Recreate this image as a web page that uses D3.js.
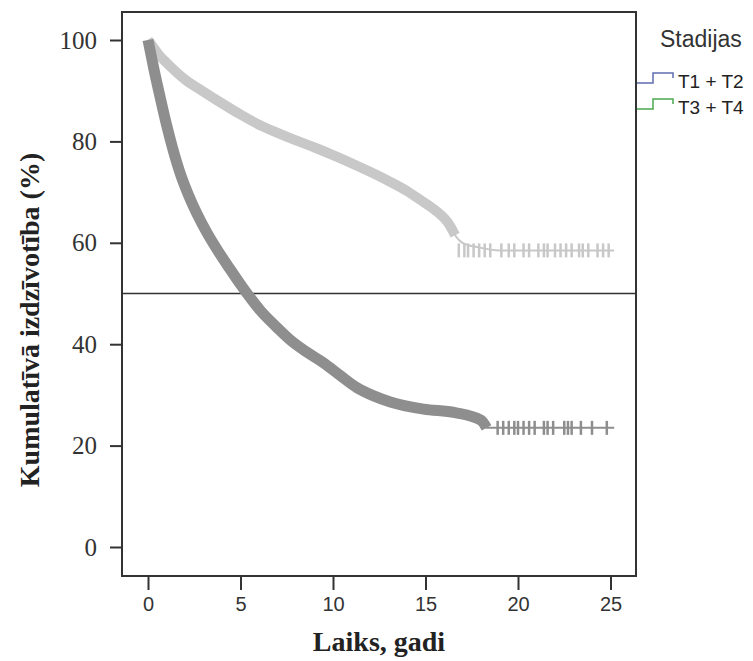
<!DOCTYPE html>
<html>
<head>
<meta charset="utf-8">
<script src="https://cdn.jsdelivr.net/npm/d3@7"></script>
<style>
  body { margin: 0; background: #fff; }
  .ylab text { font-family: "Liberation Serif", serif; font-size: 25px; fill: #333; }
  .xlab text { font-family: "Liberation Sans", Arial, sans-serif; font-size: 20px; fill: #333; }
  .tick line { stroke: #333; stroke-width: 2; }
</style>
</head>
<body>
<div id="chart"></div>
<script>
// survival data (time in years, survival in %)
var timeT12 = [0, 0.3, 0.6, 1, 2, 3, 4, 5, 6, 7, 8, 9, 10, 11, 12, 13, 14, 14.7, 15.5, 16.3, 16.6, 17, 18, 19, 25.2];
var survT12 = [100, 98.5, 97, 95.5, 92.2, 89.8, 87.5, 85.3, 83.3, 81.7, 80.2, 78.8, 77.3, 75.7, 74, 72.2, 70.2, 68.5, 66.5, 63.5, 61.5, 60, 59, 58.5, 58.5];
var censorT12 = [16.8, 17.1, 17.3, 17.6, 17.9, 18.2, 18.5, 19.1, 19.5, 19.8, 20.3, 20.6, 21.1, 21.4, 21.6, 22.0, 22.3, 22.6, 22.9, 23.3, 23.5, 23.8, 24.3, 24.6, 24.9];

var timeT34 = [0, 0.15, 0.3, 0.65, 1, 1.35, 1.73, 2.2, 2.65, 3.2, 3.73, 4.4, 5, 6.06, 7, 7.7, 8.6, 9.5, 10.4, 11.3, 12.2, 13.1, 14.9, 16.6, 18, 18.3, 25.2];
var survT34 = [100, 97.3, 94.6, 88.8, 83.3, 78.4, 73.8, 69.3, 65.7, 61.9, 58.7, 55, 51.8, 46.7, 43.2, 40.8, 38.4, 36.3, 33.8, 31.4, 29.8, 28.6, 27.2, 26.5, 25, 23.5, 23.5];
var censorT34 = [18.9, 19.2, 19.5, 19.8, 20.0, 20.3, 20.6, 20.9, 21.4, 21.6, 21.9, 22.5, 22.7, 22.9, 23.4, 24.0, 24.8];

// where the dense band of censor marks ends
var denseEndT12 = 16.6;
var denseEndT34 = 18.3;

var xTicks = [0, 5, 10, 15, 20, 25];
var yTicks = [0, 20, 40, 60, 80, 100];
var groups = ["T1 + T2", "T3 + T4"];
var legendColors = ["#5d6db3", "#4aa84f"];

var svgWidth = 753;
var svgHeight = 661;

// frame of the plot area
var frame = { left: 122, right: 636, top: 12, bottom: 576 };

var svg = d3.select("#chart")
    .append("svg")
    .attr("width", svgWidth)
    .attr("height", svgHeight);

var x = d3.scaleLinear().domain([0, 25]).range([148, 610.5]);
var y = d3.scaleLinear().domain([0, 100]).range([547, 40]);

// reference line at 50 %
svg.append("line")
    .attr("x1", frame.left).attr("x2", frame.right)
    .attr("y1", y(50)).attr("y2", y(50))
    .attr("stroke", "#333")
    .attr("stroke-width", 1.6);

var line = d3.line()
    .curve(d3.curveMonotoneX)
    .x(d => x(d[0]))
    .y(d => y(d[1]));

function drawCurve(times, surv, censor, denseEnd, color, band) {
    var pts = times.map((t, i) => [t, surv[i]]);
    // thin survival line
    svg.append("path")
        .attr("d", line(pts))
        .attr("fill", "none")
        .attr("stroke", color)
        .attr("stroke-width", 2);
    // dense band of censor marks
    svg.append("path")
        .attr("d", line(pts.filter(d => d[0] <= denseEnd)))
        .attr("fill", "none")
        .attr("stroke", color)
        .attr("stroke-width", band)
        .attr("stroke-linejoin", "round");
    // sparse censor ticks in the tail
    var last = surv[surv.length - 1];
    svg.selectAll(null)
        .data(censor)
        .enter()
        .append("line")
        .attr("x1", d => x(d)).attr("x2", d => x(d))
        .attr("y1", y(last) - 7).attr("y2", y(last) + 7)
        .attr("stroke", color)
        .attr("stroke-width", 2.5);
}

drawCurve(timeT12, survT12, censorT12, denseEndT12, "#c8c8c8", 10);
drawCurve(timeT34, survT34, censorT34, denseEndT34, "#8e8e8e", 11);

// plot frame
svg.append("rect")
    .attr("x", frame.left).attr("y", frame.top)
    .attr("width", frame.right - frame.left)
    .attr("height", frame.bottom - frame.top)
    .attr("fill", "none")
    .attr("stroke", "#333")
    .attr("stroke-width", 2);

// axes
var leftAxis = d3.axisLeft(y).tickValues(yTicks).tickSize(12).tickPadding(13);
var bottomAxis = d3.axisBottom(x).tickValues(xTicks).tickSize(14).tickPadding(7);

svg.append("g")
    .attr("class", "ylab")
    .attr("transform", `translate(${frame.left}, 0)`)
    .call(leftAxis)
    .call(g => g.select(".domain").remove());

svg.append("g")
    .attr("class", "xlab")
    .attr("transform", `translate(0, ${frame.bottom})`)
    .call(bottomAxis)
    .call(g => g.select(".domain").remove());

// axis titles
svg.append("text")
    .attr("transform", "translate(39, 320) rotate(-90)")
    .attr("text-anchor", "middle")
    .style("font-family", "Liberation Serif, serif")
    .style("font-weight", "bold")
    .style("font-size", "28px")
    .attr("fill", "#222")
    .text("Kumulatīvā izdzīvotība (%)");

svg.append("text")
    .attr("x", 379)
    .attr("y", 651)
    .attr("text-anchor", "middle")
    .style("font-family", "Liberation Serif, serif")
    .style("font-weight", "bold")
    .style("font-size", "28px")
    .attr("fill", "#222")
    .text("Laiks, gadi");

// legend
svg.append("text")
    .attr("x", 660)
    .attr("y", 47)
    .style("font-family", "Liberation Sans, Arial, sans-serif")
    .style("font-size", "23px")
    .attr("fill", "#333")
    .text("Stadijas");

var legend = svg.selectAll(".legend")
    .data(groups)
    .enter()
    .append("g")
    .attr("class", "legend")
    .attr("transform", (d, i) => `translate(0, ${i * 26})`);

legend.append("path")
    .attr("d", "M637,83H653V73H673V78")
    .attr("fill", "none")
    .attr("stroke", (d, i) => legendColors[i])
    .attr("stroke-width", 1.5);

legend.append("text")
    .attr("x", 678)
    .attr("y", 88)
    .style("font-family", "Liberation Sans, Arial, sans-serif")
    .style("font-size", "19px")
    .attr("fill", "#222")
    .text(d => d);
</script>
</body>
</html>
